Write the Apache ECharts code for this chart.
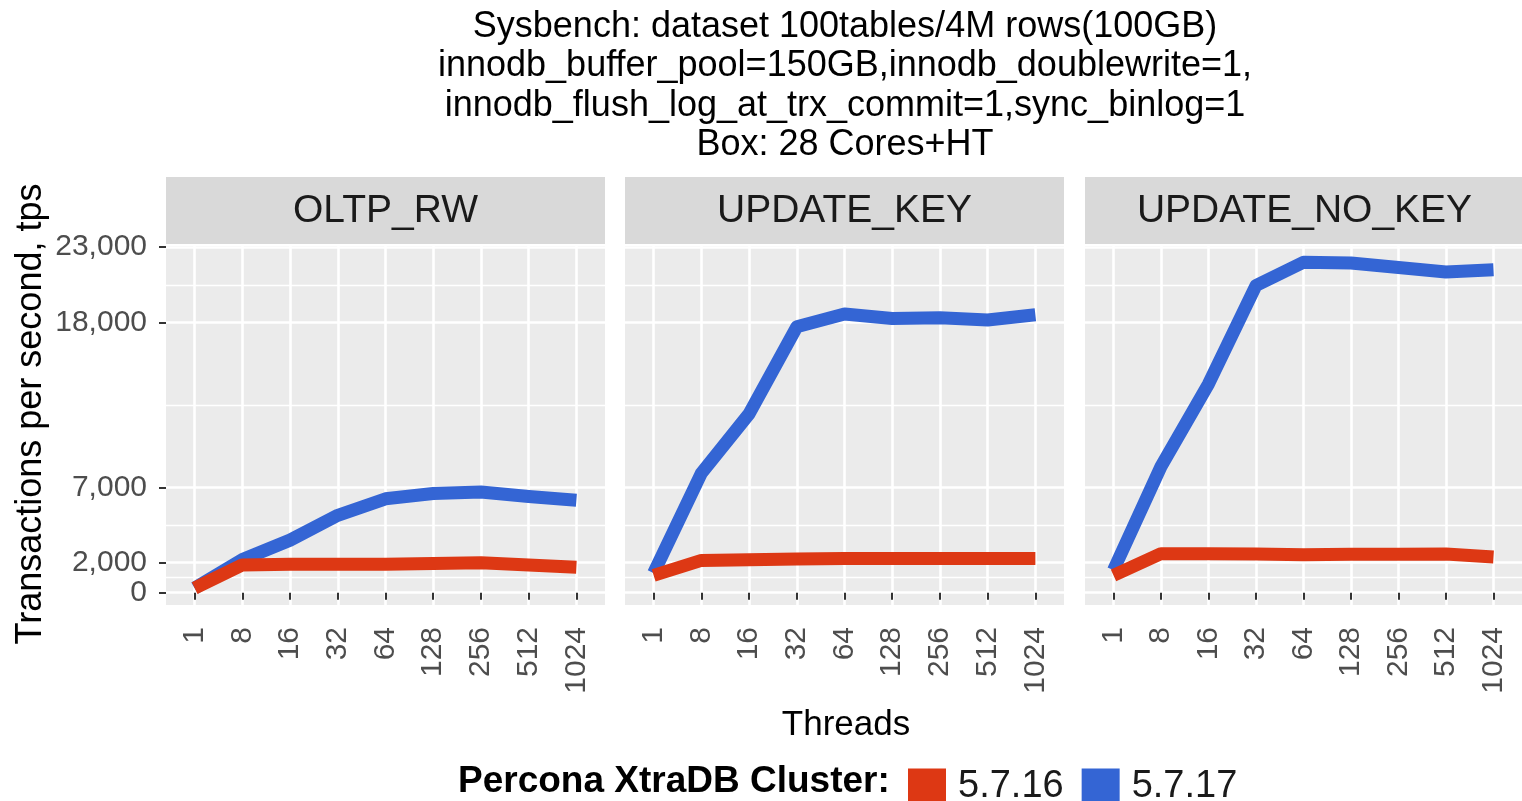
<!DOCTYPE html>
<html><head><meta charset="utf-8">
<script src="https://cdn.jsdelivr.net/npm/echarts@6/dist/echarts.min.js"></script>
<style>html,body{margin:0;padding:0;background:#fff}#c{width:1522px;height:801px}</style>
</head><body><div id="c"></div>
<script>
// ---- data ----
const threads = ['1','8','16','32','64','128','256','512','1024'];
const panels = ['OLTP_RW','UPDATE_KEY','UPDATE_NO_KEY'];
const versions = ['5.7.16','5.7.17'];
const oltpRw_5716      = [300, 1850, 1900, 1900, 1900, 1950, 2000, 1850, 1700];
const oltpRw_5717      = [300, 2200, 3500, 5150, 6250, 6600, 6700, 6400, 6150];
const updateKey_5716   = [1150, 2150, 2200, 2250, 2280, 2280, 2280, 2280, 2280];
const updateKey_5717   = [1300, 7950, 11900, 17700, 18550, 18250, 18300, 18150, 18500];
const updateNoKey_5716 = [1150, 2600, 2600, 2580, 2520, 2560, 2560, 2580, 2380];
const updateNoKey_5717 = [1500, 8400, 13900, 20450, 22000, 21950, 21650, 21350, 21500];
const yBreaks = [0, 2000, 7000, 18000, 23000];
const yMinorBreaks = [1000, 4500, 12500, 20500];
const titleLines = [
  'Sysbench: dataset 100tables/4M rows(100GB)',
  'innodb_buffer_pool=150GB,innodb_doublewrite=1,',
  'innodb_flush_log_at_trx_commit=1,sync_binlog=1',
  'Box: 28 Cores+HT'
];

// ---- layout ----
const FONT = 'Liberation Sans, Arial, sans-serif';
const RED = '#DD3814', BLUE = '#3465D4';
const panelLeft = [166, 625, 1085];
const panelW = 439, panelTop = 246, panelH = 359;
const yMin = -820, yMax = 23080;
const xIdx = threads.map((t, i) => i + 1);
const seriesData = [
  [oltpRw_5716, oltpRw_5717],
  [updateKey_5716, updateKey_5717],
  [updateNoKey_5716, updateNoKey_5717]
];

const grid = [], xAxis = [], yAxis = [], series = [], graphic = [];
panels.forEach((p, i) => {
  grid.push({left: panelLeft[i], top: panelTop, width: panelW, height: panelH,
    show: true, backgroundColor: '#EBEBEB', borderWidth: 0});
  xAxis.push({type: 'value', gridIndex: i, min: 0.4, max: 9.6,
    axisLine: {show: false},
    axisTick: {show: true, customValues: xIdx, length: 7, lineStyle: {color: '#333', width: 2}},
    axisLabel: {customValues: xIdx, rotate: 90, margin: 22, fontSize: 30, color: '#4D4D4D', fontFamily: FONT,
      formatter: v => threads[Math.round(v) - 1]},
    splitLine: {show: true, lineStyle: {color: '#fff', width: 2.6}}
  });
  // major y axis
  yAxis.push({type: 'value', gridIndex: i, min: yMin, max: yMax,
    axisLine: {show: false},
    axisTick: {show: i === 0, customValues: yBreaks, length: 7, lineStyle: {color: '#333', width: 2}},
    axisLabel: {show: i === 0, customValues: yBreaks, margin: 19, fontSize: 30, color: '#4D4D4D', fontFamily: FONT,
      formatter: v => v.toLocaleString('en-US')},
    splitLine: {show: true, lineStyle: {color: '#fff', width: 2.6}}
  });
  // minor y grid lines
  yAxis.push({type: 'value', gridIndex: i, min: yMin, max: yMax, position: 'left',
    axisLine: {show: false},
    axisTick: {show: false, customValues: yMinorBreaks},
    axisLabel: {show: false, customValues: yMinorBreaks},
    splitLine: {show: true, lineStyle: {color: '#fff', width: 1.3}}
  });
  // series: blue first, red on top
  [1, 0].forEach(v => {
    series.push({type: 'line', name: versions[v], xAxisIndex: i, yAxisIndex: i * 2,
      data: seriesData[i][v].map((val, k) => [xIdx[k], val]),
      showSymbol: false, symbol: 'none', silent: true, z: 5,
      lineStyle: {color: v === 0 ? RED : BLUE, width: 13, cap: 'butt', join: 'round'},
      itemStyle: {color: v === 0 ? RED : BLUE}
    });
  });
  // strip
  graphic.push({type: 'rect', shape: {x: panelLeft[i], y: 177, width: panelW, height: 67},
    style: {fill: '#D9D9D9'}, silent: true});
  graphic.push({type: 'text', x: panelLeft[i] + panelW / 2, y: 211,
    style: {text: p, font: '39px ' + FONT, fill: '#1A1A1A', align: 'center', verticalAlign: 'middle'}, silent: true});
});

graphic.push({type: 'text', x: 845, y: 7,
  style: {text: titleLines.join('\n'), font: '36px ' + FONT, lineHeight: 39.5, fill: '#000', align: 'center', verticalAlign: 'top'}});
graphic.push({type: 'text', x: 846, y: 725,
  style: {text: 'Threads', font: '35px ' + FONT, fill: '#000', align: 'center', verticalAlign: 'middle'}});
graphic.push({type: 'text', x: 31, y: 414, rotation: Math.PI / 2,
  style: {text: 'Transactions per second, tps', font: '36px ' + FONT, fill: '#000', align: 'center', verticalAlign: 'middle'}});
graphic.push({type: 'text', x: 458, y: 782,
  style: {text: 'Percona XtraDB Cluster:', font: 'bold 37px ' + FONT, fill: '#000', align: 'left', verticalAlign: 'middle'}});

const chart = echarts.init(document.getElementById('c'), null, {renderer: 'canvas'});
chart.setOption({
  animation: false,
  backgroundColor: '#fff',
  grid, xAxis, yAxis, series, graphic,
  legend: {left: 903, top: 763, itemWidth: 38, itemHeight: 37, itemGap: 18,
    data: versions.map(v => ({name: v, icon: 'rect'})),
    textStyle: {fontSize: 38, color: '#1A1A1A', fontFamily: FONT, padding: [0, 0, 0, 7]},
    selectedMode: false}
});
</script></body></html>
